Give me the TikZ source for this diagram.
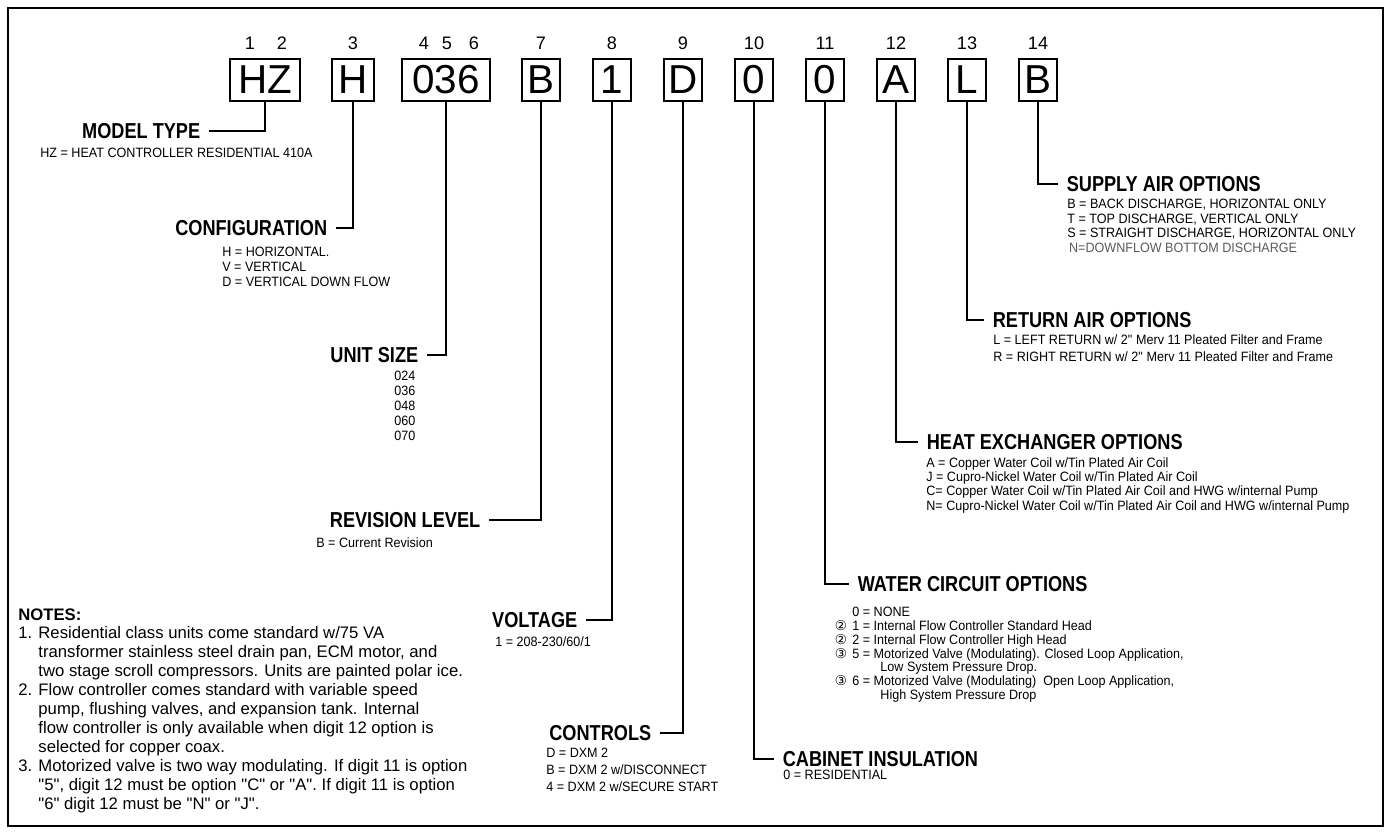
\documentclass[tikz,border=0pt]{standalone}
\usepackage{fontspec}
\setmainfont{Liberation Sans}
\newfontfamily\headfont[FakeStretch=0.84]{Liberation Sans}
\newfontfamily\optfont[FakeStretch=0.93]{Liberation Sans}
\newfontfamily\symfont{DejaVu Sans}
\newcommand{\quoted}[1]{\textquotedbl#1\textquotedbl}
\usetikzlibrary{positioning}

\begin{document}
\begin{tikzpicture}[x=0.02cm, y=-0.02cm,
    codebox/.style={rectangle, draw, line width=1.1pt, inner sep=0pt, minimum width=0.76cm, minimum height=0.84cm, font=\fontsize{23}{23}\selectfont},
    digit/.style={inner sep=0pt, font=\fontsize{10.3}{12}\selectfont},
    head/.style={inner sep=0pt, outer xsep=5pt, font=\headfont\bfseries\fontsize{12.3}{14}\selectfont},
    opts/.style={inner sep=0pt, anchor=north west, align=left, font=\optfont\fontsize{7.7}{#1}\selectfont},
    opts/.default=8.3,
    link/.style={line width=1.1pt}]

    \useasboundingbox (0,0) rectangle (1390,834);
    \draw[link] (8,8) rectangle (1383,826);

    % Model number boxes
    \node[codebox, minimum width=1.4cm] (hz) at (265,80) {HZ};
    \node[codebox, minimum width=0.84cm] (cfg) at (353,80) {H};
    \node[codebox, minimum width=1.76cm] (size) at (446,80) {036};
    \node[codebox] (rev) at (541,80) {B};
    \node[codebox] (volt) at (612,80) {1};
    \node[codebox] (ctrl) at (683,80) {D};
    \node[codebox] (cab) at (754,80) {0};
    \node[codebox] (water) at (825,80) {0};
    \node[codebox] (hx) at (896,80) {A};
    \node[codebox] (ret) at (967,80) {L};
    \node[codebox] (sup) at (1038,80) {B};

    % Digit positions
    \node[digit] (p1) at (250,43) {1};
    \node[digit] (p2) at (282,43) {2};
    \node[digit] (p3) at (353,43) {3};
    \node[digit] (p4) at (424,43) {4};
    \node[digit] (p5) at (447,43) {5};
    \node[digit] (p6) at (474,43) {6};
    \node[digit] (p7) at (541,43) {7};
    \node[digit] (p8) at (612,43) {8};
    \node[digit] (p9) at (683,43) {9};
    \node[digit] (p10) at (754,43) {10};
    \node[digit] (p11) at (825,43) {11};
    \node[digit] (p12) at (896,43) {12};
    \node[digit] (p13) at (967,43) {13};
    \node[digit] (p14) at (1038,43) {14};

    % Left hand options
    \node[head, anchor=east] (modeltype) at (209,131) {MODEL TYPE};
    \node[opts] (modeltypeopt) at (40,148) {HZ = HEAT CONTROLLER RESIDENTIAL 410A};

    \node[head, anchor=east] (config) at (336,228) {CONFIGURATION};
    \node[opts=8.5] (configopt) at (222,247) {H = HORIZONTAL.\\V = VERTICAL\\D = VERTICAL DOWN FLOW};

    \node[head, anchor=east] (unitsize) at (427,355) {UNIT SIZE};
    \node[opts=8.5] (unitsizeopt) at (394,371) {024\\036\\048\\060\\070};

    \node[head, anchor=east] (revision) at (489,520) {REVISION LEVEL};
    \node[opts] (revisionopt) at (316,537) {B = Current Revision};

    \node[head, anchor=east] (voltage) at (586,620) {VOLTAGE};
    \node[opts] (voltageopt) at (495,636) {1 = 208-230/60/1};

    \node[head, anchor=east] (controls) at (660,733) {CONTROLS};
    \node[opts=9.7] (controlsopt) at (546,748) {D = DXM 2\\B = DXM 2 w/DISCONNECT\\4 = DXM 2 w/SECURE START};

    % Right hand options
    \node[head, anchor=west] (cabinet) at (774,759) {CABINET INSULATION};
    \node[opts] (cabinetopt) at (783,770) {0 = RESIDENTIAL};

    \node[head, anchor=west] (circuit) at (849,584) {WATER CIRCUIT OPTIONS};
    \node[opts=7.85] (circuitopt) at (852,607) {0 = NONE\\
        \llap{{\symfont ②}\hspace{3pt}}1 = Internal Flow Controller Standard Head\\
        \llap{{\symfont ②}\hspace{3pt}}2 = Internal Flow Controller High Head\\
        \llap{{\symfont ③}\hspace{3pt}}5 = Motorized Valve (Modulating). Closed Loop Application,\\
        \hspace{16pt}Low System Pressure Drop.\\
        \llap{{\symfont ③}\hspace{3pt}}6 = Motorized Valve (Modulating)\ \ Open Loop Application,\\
        \hspace{16pt}High System Pressure Drop};

    \node[head, anchor=west] (exchanger) at (918,442) {HEAT EXCHANGER OPTIONS};
    \node[opts=8.15] (exchangeropt) at (926,457) {A = Copper Water Coil w/Tin Plated Air Coil\\
        J = Cupro-Nickel Water Coil w/Tin Plated Air Coil\\
        C= Copper Water Coil w/Tin Plated Air Coil and HWG w/internal Pump\\
        N= Cupro-Nickel Water Coil w/Tin Plated Air Coil and HWG w/internal Pump};

    \node[head, anchor=west] (returnair) at (984,320) {RETURN AIR OPTIONS};
    \node[opts=9.7] (returnairopt) at (993,334) {L = LEFT RETURN w/ 2\textquotedbl\ Merv 11 Pleated Filter and Frame\\
        R = RIGHT RETURN w/ 2\textquotedbl\ Merv 11 Pleated Filter and Frame};

    \node[head, anchor=west] (supplyair) at (1058,184) {SUPPLY AIR OPTIONS};
    \node[opts] (supplyairopt) at (1067,199) {B = BACK DISCHARGE, HORIZONTAL ONLY\\
        T = TOP DISCHARGE, VERTICAL ONLY\\
        S = STRAIGHT DISCHARGE, HORIZONTAL ONLY\\
        \hspace{1pt}\textcolor{black!65}{N=DOWNFLOW BOTTOM DISCHARGE}};

    % Leader lines
    \draw[link] (hz.south) |- (modeltype.east);
    \draw[link] (cfg.south) |- (config.east);
    \draw[link] (size.south) |- (unitsize.east);
    \draw[link] (rev.south) |- (revision.east);
    \draw[link] (volt.south) |- (voltage.east);
    \draw[link] (ctrl.south) |- (controls.east);
    \draw[link] (cab.south) |- (cabinet.west);
    \draw[link] (water.south) |- (circuit.west);
    \draw[link] (hx.south) |- (exchanger.west);
    \draw[link] (ret.south) |- (returnair.west);
    \draw[link] (sup.south) |- (supplyair.west);

    % Notes
    \node[inner sep=0pt, anchor=north west, align=left, font=\fontsize{9.5}{10.8}\selectfont] (notes) at (18,608) {\textbf{NOTES:}\\
        1. Residential class units come standard w/75 VA\\
        \hphantom{1. }transformer stainless steel drain pan, ECM motor, and\\
        \hphantom{1. }two stage scroll compressors. Units are painted polar ice.\\
        2. Flow controller comes standard with variable speed\\
        \hphantom{2. }pump, flushing valves, and expansion tank. Internal\\
        \hphantom{2. }flow controller is only available when digit 12 option is\\
        \hphantom{2. }selected for copper coax.\\
        3. Motorized valve is two way modulating. If digit 11 is option\\
        \hphantom{3. }\quoted{5}, digit 12 must be option \quoted{C} or \quoted{A}. If digit 11 is option\\
        \hphantom{3. }\quoted{6} digit 12 must be \quoted{N} or \quoted{J}.};

\end{tikzpicture}
\end{document}
